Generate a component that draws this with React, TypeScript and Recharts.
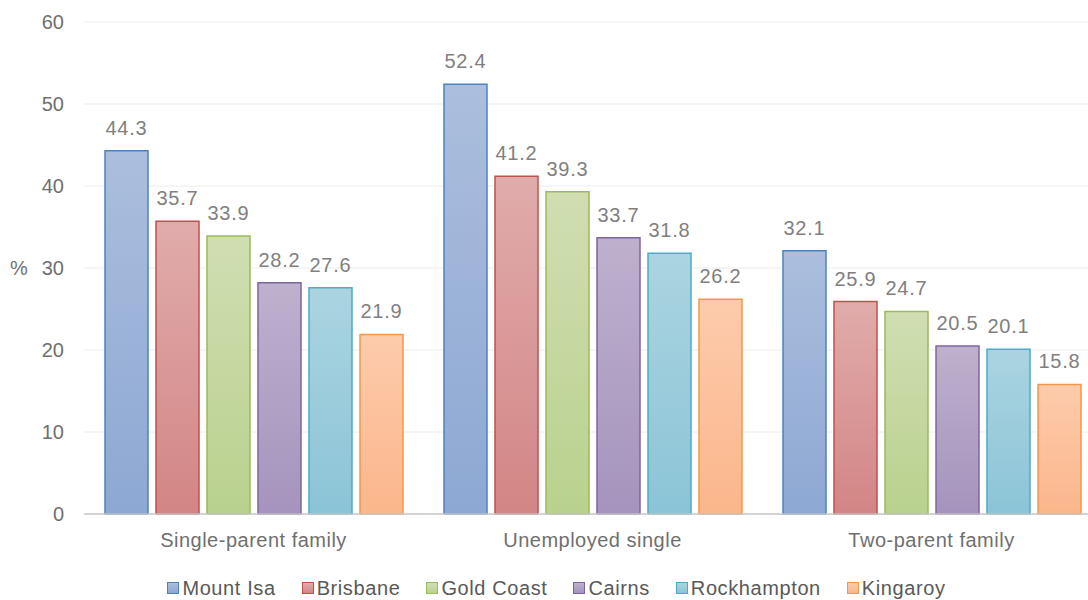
import { Bar, BarChart, CartesianGrid, LabelList, Legend, XAxis, YAxis } from "recharts";

const categories = ["Single-parent family", "Unemployed single", "Two-parent family"];
const mountIsa = [44.3, 52.4, 32.1];
const brisbane = [35.7, 41.2, 25.9];
const goldCoast = [33.9, 39.3, 24.7];
const cairns = [28.2, 33.7, 20.5];
const rockhampton = [27.6, 31.8, 20.1];
const kingaroy = [21.9, 26.2, 15.8];
const yTicks = [0, 10, 20, 30, 40, 50, 60];

const FONT = "'Liberation Sans', Arial, sans-serif";

const series = [
  { key: "mountIsa", name: "Mount Isa", values: mountIsa, stroke: "#4f81bd", top: "#abbedd", bottom: "#8da8d3" },
  { key: "brisbane", name: "Brisbane", values: brisbane, stroke: "#c0504d", top: "#e0acab", bottom: "#d38585" },
  { key: "goldCoast", name: "Gold Coast", values: goldCoast, stroke: "#9bbb59", top: "#d0deb2", bottom: "#b9d18e" },
  { key: "cairns", name: "Cairns", values: cairns, stroke: "#8064a2", top: "#bdb1cd", bottom: "#a593bd" },
  { key: "rockhampton", name: "Rockhampton", values: rockhampton, stroke: "#4bacc6", top: "#abd4e1", bottom: "#8bc4d7" },
  { key: "kingaroy", name: "Kingaroy", values: kingaroy, stroke: "#f79646", top: "#fdcbac", bottom: "#fbb68b" },
];

const data = categories.map((category, i) => {
  const row: Record<string, string | number> = { category };
  series.forEach((s) => {
    row[s.key] = s.values[i];
  });
  return row;
});

function LegendContent() {
  return (
    <div
      style={{
        display: "flex",
        justifyContent: "center",
        alignItems: "center",
        height: 30,
        transform: "translate(6px, 3px)",
        fontFamily: FONT,
        fontSize: 20,
        color: "#595959",
      }}
    >
      {series.map((s, i) => (
        <div
          key={s.key}
          style={{ display: "flex", alignItems: "center", marginRight: i === series.length - 1 ? 0 : 26 }}
        >
          <span
            style={{
              display: "inline-block",
              width: 10,
              height: 10,
              border: `1.5px solid ${s.stroke}`,
              background: `linear-gradient(${s.top}, ${s.bottom})`,
              marginRight: 3,
            }}
          />
          <span style={{ letterSpacing: 0.6 }}>{s.name}</span>
        </div>
      ))}
    </div>
  );
}

export default function App() {
  return (
    <div style={{ position: "absolute", left: 0, top: 0, width: 1088, height: 600, overflow: "hidden", background: "#fff" }}>
      <BarChart
        width={1101}
        height={600}
        data={data}
        margin={{ top: 22, right: 0, left: 0, bottom: 0 }}
        barGap={8}
        barSize={43}
      >
        <defs>
          {series.map((s) => (
            <linearGradient key={s.key} id={`grad-${s.key}`} x1="0" y1="0" x2="0" y2="1">
              <stop offset="0%" stopColor={s.top} />
              <stop offset="100%" stopColor={s.bottom} />
            </linearGradient>
          ))}
        </defs>
        <CartesianGrid vertical={false} stroke="#ececec" />
        <XAxis
          dataKey="category"
          height={56}
          tickLine={false}
          tickSize={0}
          tickMargin={19}
          axisLine={{ stroke: "#c8c8c8", strokeWidth: 1.5 }}
          tick={{ fill: "#6f6f6f", fontSize: 20, fontFamily: FONT, letterSpacing: 0.5 }}
        />
        <YAxis
          width={84}
          domain={[0, 60]}
          ticks={yTicks}
          axisLine={false}
          tickLine={false}
          tickSize={0}
          tickMargin={20}
          tick={{ fill: "#6f6f6f", fontSize: 20, fontFamily: FONT }}
          label={{
            value: "%",
            position: "insideLeft",
            offset: 10,
            fill: "#6f6f6f",
            fontSize: 20,
            fontFamily: FONT,
          }}
        />
        <Legend verticalAlign="bottom" content={() => <LegendContent />} />
        {series.map((s) => (
          <Bar
            key={s.key}
            dataKey={s.key}
            name={s.name}
            fill={`url(#grad-${s.key})`}
            stroke={s.stroke}
            strokeWidth={1.5}
            isAnimationActive={false}
          >
            <LabelList
              dataKey={s.key}
              position="top"
              offset={16}
              fill="#7f7f7f"
              fontSize={20}
              fontFamily={FONT}
              letterSpacing={0.8}
            />
          </Bar>
        ))}
      </BarChart>
    </div>
  );
}
